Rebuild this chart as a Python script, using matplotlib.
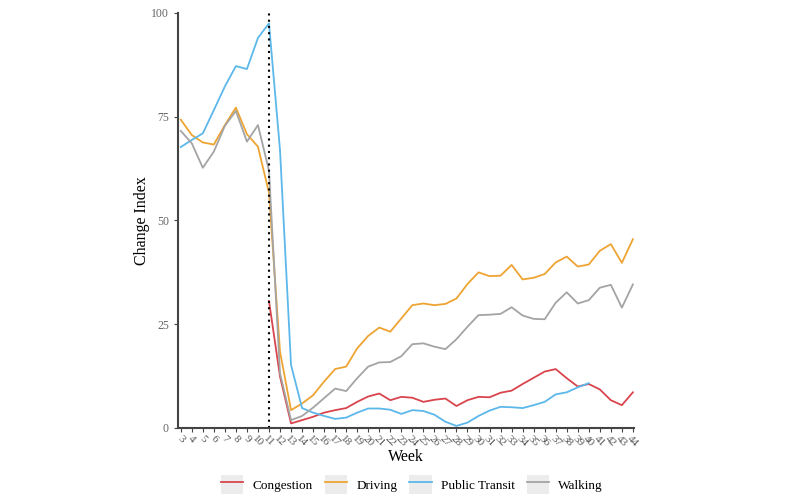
import matplotlib.pyplot as plt
from matplotlib.lines import Line2D
from matplotlib.patches import Patch
from matplotlib.legend_handler import HandlerTuple

plt.rcParams['font.family'] = ['Liberation Serif', 'DejaVu Serif']

# Data
weeks = list(range(3, 45))

congestion_weeks = list(range(11, 45))
congestion = [30.6, 12.4, 1.1, 1.9, 2.7, 3.7, 4.3, 4.8, 6.3, 7.6, 8.3, 6.7, 7.5, 7.3,
              6.3, 6.8, 7.1, 5.3, 6.7, 7.5, 7.4, 8.5, 9.0, 10.6, 12.1, 13.6, 14.2, 12.0,
              10.0, 10.6, 9.3, 6.7, 5.5, 8.6]

driving = [74.3, 70.6, 68.8, 68.3, 73.0, 77.2, 70.8, 67.8, 56.7, 18.4, 4.3, 5.9, 7.9,
           11.2, 14.2, 14.8, 19.2, 22.2, 24.2, 23.2, 26.4, 29.6, 30.0, 29.6, 29.9, 31.2,
           34.7, 37.5, 36.6, 36.7, 39.3, 35.8, 36.2, 37.1, 39.9, 41.3, 38.9, 39.4, 42.7,
           44.3, 39.8, 45.5]

transit_weeks = list(range(3, 41))
transit = [67.7, 69.4, 71.0, 76.6, 82.3, 87.2, 86.5, 94.0, 97.5, 67.0, 15.2, 4.8, 3.7,
           2.9, 2.2, 2.5, 3.7, 4.7, 4.7, 4.4, 3.4, 4.3, 4.1, 3.2, 1.5, 0.5, 1.3, 2.9,
           4.2, 5.1, 5.0, 4.8, 5.5, 6.3, 8.1, 8.6, 9.8, 10.8]

walking = [71.6, 68.6, 62.7, 66.6, 72.8, 76.4, 69.0, 73.0, 62.0, 13.2, 1.9, 2.9, 4.9,
           7.2, 9.5, 8.9, 12.0, 14.8, 15.8, 15.9, 17.3, 20.2, 20.4, 19.6, 19.0, 21.4,
           24.4, 27.2, 27.3, 27.5, 29.1, 27.1, 26.3, 26.2, 30.2, 32.7, 30.0, 30.8, 33.8,
           34.5, 29.0, 34.6]

colors = {'Congestion': '#d9454d', 'Driving': '#eea432',
          'Public Transit': '#5cb8ea', 'Walking': '#a4a4a4'}

fig = plt.figure(figsize=(8, 5), dpi=100)
ax = fig.add_axes([0.2225, 0.144, 0.57, 0.83])

ax.plot(congestion_weeks, congestion, color=colors['Congestion'], lw=1.3)
ax.plot(weeks, driving, color=colors['Driving'], lw=1.3)
ax.plot(transit_weeks, transit, color=colors['Public Transit'], lw=1.3)
ax.plot(weeks, walking, color=colors['Walking'], lw=1.3)

# lockdown marker
ax.axvline(11, color='black', ls=(0, (1, 2)), lw=1.5)

ax.set_xlim(2.75, 44.1)
ax.set_ylim(0, 100)
ax.set_xticks(weeks)
ax.set_xticklabels([str(w) for w in weeks], rotation=-45, ha='center', va='top',
                   fontsize=8, color='#555555')
ax.set_yticks([0, 25, 50, 75, 100])
ax.tick_params(axis='y', labelsize=8.5, labelcolor='#666666', length=3, color='#444444')
ax.tick_params(axis='x', length=3, color='#444444', pad=1.5)

for s in ['top', 'right']:
    ax.spines[s].set_visible(False)
for s in ['left', 'bottom']:
    ax.spines[s].set_linewidth(1.5)
    ax.spines[s].set_color('#444444')

ax.set_xlabel('Week', fontsize=11.5)
ax.set_ylabel('Change Index', fontsize=11.5)
ax.xaxis.set_label_coords(0.5, -0.05)
ax.yaxis.set_label_coords(-0.062, 0.5)

# legend keys: grey square with the line on top
handles = []
for name, c in colors.items():
    handles.append((Patch(facecolor='#ececec', edgecolor='none'),
                    Line2D([], [], color=c, lw=1.3)))
fig.legend(handles, list(colors.keys()), loc='lower center',
           bbox_to_anchor=(0.515, -0.012), ncol=4, frameon=False, fontsize=9.5,
           handler_map={tuple: HandlerTuple(ndivide=1, pad=0)},
           handlelength=1.7, handleheight=1.9, columnspacing=0.9, handletextpad=0.7)

fig.savefig('out.png', dpi=100)
